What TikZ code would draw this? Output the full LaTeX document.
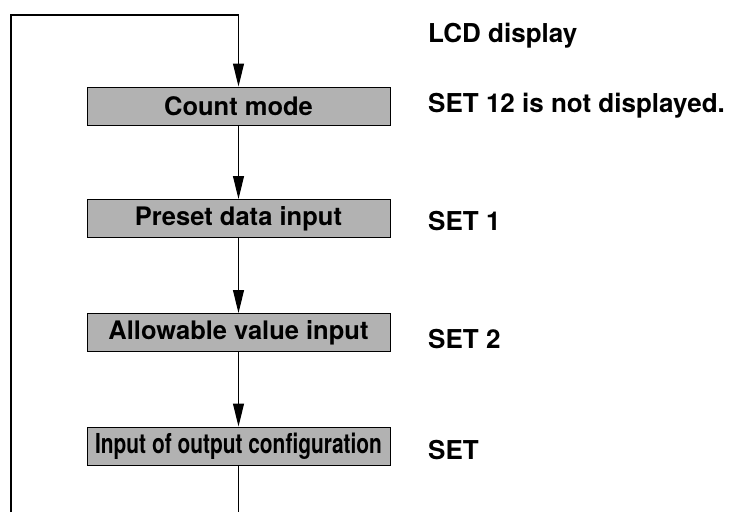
\documentclass[tikz,border=0pt]{standalone}
\usepackage{fontspec}
\setmainfont{TeX Gyre Heros}
\usetikzlibrary{arrows.meta}
\begin{document}
\begin{tikzpicture}[x=1pt,y=-1pt,
  stepbox/.style={draw=black,line width=1pt,fill=black!30,minimum width=303pt,minimum height=38pt,inner sep=0pt,
    font=\fontsize{25.5}{30}\selectfont\bfseries},
  lbl/.style={anchor=base west,inner sep=0pt,font=\fontsize{26}{31}\selectfont\bfseries},
  conn/.style={line width=1.1pt,-{Triangle[length=23pt,width=11pt]}},
  plain/.style={line width=1.1pt}]
\useasboundingbox (0,0) rectangle (730,512);
\node[stepbox] (count) at (238.5,106) {Count mode};
\node[stepbox] (preset) at (238.5,218.5) {Preset data input};
\node[stepbox] (allow) at (238.5,332.5) {Allowable value input};
\node[stepbox] (inp) at (238.5,446) {\fontsize{27.5}{32}\selectfont\scalebox{0.76}[1]{Input of output configuration}};
\coordinate (bl) at (11,512);
\coordinate (tl) at (11,15);
\coordinate (br) at (238.5,512);
\draw[conn] (bl) -- (tl) -| (count.north);
\draw[conn] (count.south) -- (preset.north);
\draw[conn] (preset.south) -- (allow.north);
\draw[conn] (allow.south) -- (inp.north);
\draw[plain] (inp.south) -- (br);
\node[lbl] (lcd) at (428,42) {LCD display};
\node[lbl] (s12) at (428,112) {SET 12 is not displayed.};
\node[lbl] (s1) at (428,230) {SET 1};
\node[lbl] (s2) at (428,348) {SET 2};
\node[lbl] (s0) at (428,459) {SET};
\end{tikzpicture}
\end{document}
